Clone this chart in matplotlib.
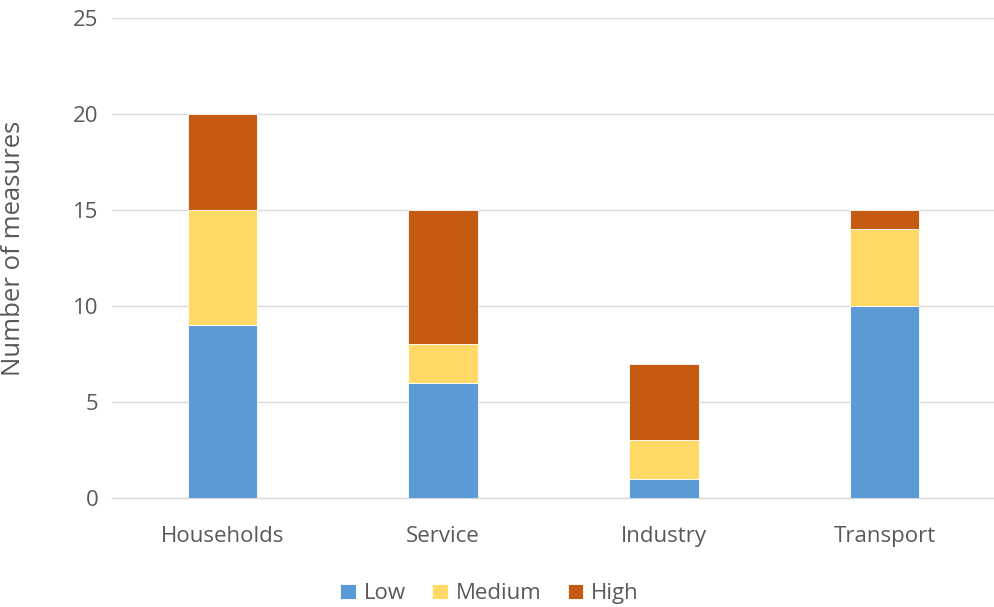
import matplotlib
matplotlib.use("Agg")
import matplotlib.pyplot as plt
import numpy as np

categories = ["Households", "Service", "Industry", "Transport"]
low = [9, 6, 1, 10]
medium = [6, 2, 2, 4]
high = [5, 7, 4, 1]
series_names = ["Low", "Medium", "High"]
colors = ["#5B9BD5", "#FFD966", "#C55A11"]
yticks = [0, 5, 10, 15, 20, 25]

plt.rcParams["font.family"] = ["Open Sans", "DejaVu Sans"]
text_color = "#595959"

fig = plt.figure(figsize=(9.95, 6.07), dpi=100)
ax = fig.add_axes([0.1126, 0.1796, 0.8874, 0.7907])

x = np.arange(len(categories))
width = 0.315
bottom = np.zeros(len(categories))
handles = []
for name, vals, c in zip(series_names, [low, medium, high], colors):
    b = ax.bar(x, vals, width, bottom=bottom, color=c, edgecolor="white",
               linewidth=0.6, label=name, zorder=3)
    handles.append(b)
    bottom += np.array(vals)

ax.set_xlim(-0.5, len(categories) - 0.5)
ax.set_ylim(0, 25)
ax.set_yticks(yticks)
ax.set_xticks(x)
ax.set_xticklabels(categories)
ax.grid(axis="y", color="#D9D9D9", linewidth=1, zorder=0)
for s in ["top", "right", "left"]:
    ax.spines[s].set_visible(False)
ax.spines["bottom"].set_color("#D9D9D9")
ax.spines["bottom"].set_linewidth(1)
ax.tick_params(axis="both", length=0, colors=text_color, labelsize=16)
ax.tick_params(axis="x", pad=20)
ax.tick_params(axis="y", pad=10)
ax.set_ylabel("Number of measures", color=text_color, fontsize=18.5)
ax.yaxis.set_label_coords(-0.098, 0.52)

fig.legend(handles=handles, labels=series_names, loc="center",
           bbox_to_anchor=(0.492, 0.022), ncol=3, frameon=False,
           fontsize=16, handlelength=0.7, handleheight=0.7,
           handletextpad=0.35, columnspacing=1.2, labelcolor=text_color)

fig.savefig("out.png", dpi=100, facecolor="white")
